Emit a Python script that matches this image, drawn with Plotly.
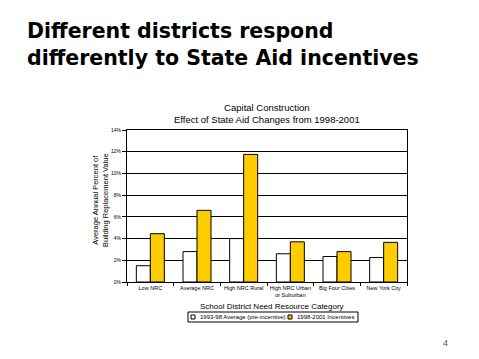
import plotly.graph_objects as go

categories = ["Low NRC", "Average NRC", "High NRC Rural", "High NRC Urban<br>or Suburban",
              "Big Four Cities", "New York City"]
pre_incentive = [1.5, 2.8, 4.0, 2.6, 2.35, 2.25]
incentives = [4.45, 6.6, 11.75, 3.7, 2.8, 3.65]
series_names = ["1993-98 Average (pre-incentive)", "1998-2001 Incentives"]
series_colors = ["white", "#FFCC00"]
y_ticks = [0, 2, 4, 6, 8, 10, 12, 14]
y_tick_labels = [f"{v}%" for v in y_ticks]

FONT = "Liberation Sans, Arial, sans-serif"
INK = "black"

# plot area in pixels
L, R, T, B = 127, 407, 130, 282
W, H = R - L, B - T


def px(x):
    return (x - L) / W


def py(y):
    return (B - y) / H


fig = go.Figure()
for name, vals, col in zip(series_names, [pre_incentive, incentives], series_colors):
    fig.add_trace(go.Bar(x=categories, y=vals, name=name,
                         marker=dict(color=col, line=dict(color="black", width=1))))

shapes = [
    dict(type="rect", xref="paper", yref="paper", x0=px(188), x1=px(358), y0=py(322), y1=py(312),
         line=dict(color="black", width=1), fillcolor="white", layer="above"),
    dict(type="rect", xref="paper", yref="paper", x0=px(191), x1=px(195), y0=py(319), y1=py(315),
         line=dict(color="black", width=1), fillcolor=series_colors[0]),
    dict(type="rect", xref="paper", yref="paper", x0=px(288), x1=px(292), y0=py(319), y1=py(315),
         line=dict(color="black", width=1), fillcolor=series_colors[1]),
]

fig.update_layout(
    template="none",
    width=479, height=359,
    margin=dict(l=L, r=479 - R, t=T, b=359 - B),
    paper_bgcolor="white", plot_bgcolor="white",
    font=dict(family=FONT, color=INK),
    barmode="group", bargap=0.4, bargroupgap=0,
    showlegend=False,
    xaxis=dict(showline=True, linecolor="black", linewidth=1, mirror=True, automargin=False,
               showgrid=False, zeroline=False,
               ticks="outside", tickson="boundaries", ticklen=3, tickcolor="black",
               tickfont=dict(size=5.5, family=FONT, color=INK), tickangle=0),
    yaxis=dict(range=[0, 14], tickvals=y_ticks, ticktext=y_tick_labels, automargin=False,
               showline=True, linecolor="black", linewidth=1, mirror=True,
               showgrid=True, gridcolor="black", gridwidth=1,
               ticks="outside", ticklen=4, tickcolor="black",
               tickfont=dict(size=5, family=FONT, color=INK), zeroline=False),
    shapes=shapes,
    annotations=[
        dict(text="<b>Different districts respond<br>differently to State Aid incentives</b>",
             xref="paper", yref="paper", x=px(25), y=py(17), showarrow=False,
             align="left", xanchor="left", yanchor="top",
             font=dict(size=20.5, family="DejaVu Sans, Liberation Sans, sans-serif", color=INK)),
        dict(text="Capital Construction<br>Effect of State Aid Changes from 1998-2001",
             xref="paper", yref="paper", x=0.5, y=py(114), showarrow=False,
             xanchor="center", yanchor="middle", font=dict(size=9.5, family=FONT, color=INK)),
        dict(text="Average Annual Percent of<br>Building Replacement Value",
             xref="paper", yref="paper", x=px(100), y=py(200), showarrow=False, textangle=-90,
             xanchor="center", yanchor="middle", font=dict(size=7.5, family=FONT, color=INK)),
        dict(text="School District Need Resource Category",
             xref="paper", yref="paper", x=px(272), y=py(306), showarrow=False,
             xanchor="center", yanchor="middle", font=dict(size=8, family=FONT, color=INK)),
        dict(text=series_names[0], xref="paper", yref="paper", x=px(198), y=py(317),
             showarrow=False, xanchor="left", yanchor="middle",
             font=dict(size=6, family=FONT, color=INK)),
        dict(text=series_names[1], xref="paper", yref="paper", x=px(295), y=py(317),
             showarrow=False, xanchor="left", yanchor="middle",
             font=dict(size=6, family=FONT, color=INK)),
        dict(text="4", xref="paper", yref="paper", x=px(445), y=py(343), showarrow=False,
             xanchor="center", yanchor="middle", font=dict(size=9, family=FONT, color="#555555")),
    ],
)

fig.write_html("out.html", config={"displayModeBar": False},
               post_script="document.body.style.margin='0';")
